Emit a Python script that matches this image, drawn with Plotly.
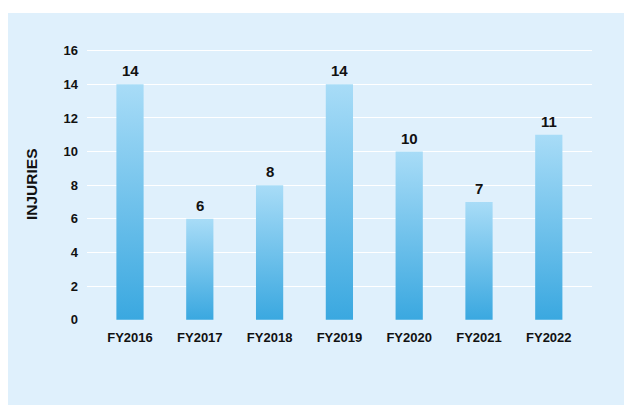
import plotly.graph_objects as go

# Injury counts by fiscal year
years = ["FY2016", "FY2017", "FY2018", "FY2019", "FY2020", "FY2021", "FY2022"]
injuries = [14, 6, 8, 14, 10, 7, 11]
y_ticks = [0, 2, 4, 6, 8, 10, 12, 14, 16]

PANEL = "#dff0fc"
DARK = "#3aa8e0"
LIGHT = "#a8dcf7"
TEXT = "#111111"
FONT = "Liberation Sans, Arial, Helvetica, sans-serif"
BAR_W = 0.39

W, H = 624, 405
L, R, T, B = 87, 32, 46, 85

fig = go.Figure()

# Each bar is a filled outline so that it can carry a vertical gradient
for i, (yr, v) in enumerate(zip(years, injuries)):
    x0, x1 = i - BAR_W / 2, i + BAR_W / 2
    fig.add_trace(go.Scatter(
        x=[x0, x1, x1, x0, x0],
        y=[0, 0, v, v, 0],
        mode="lines",
        line=dict(width=0, color=DARK),
        fill="toself",
        fillgradient=dict(type="vertical",
                          colorscale=[[0, DARK], [1, LIGHT]]),
        hoverinfo="skip",
        showlegend=False,
        name=yr,
    ))
    fig.add_annotation(
        x=i, y=v, xref="x", yref="y",
        text=f"<b>{v}</b>", showarrow=False,
        yanchor="bottom", yshift=3,
        font=dict(family=FONT, size=15, color=TEXT),
    )

plot_w = W - L - R
plot_h = H - T - B

# Light blue backdrop panel behind the chart
fig.add_shape(
    type="rect", xref="paper", yref="paper", layer="below",
    x0=(8 - L) / plot_w, x1=(W + 5 - L) / plot_w,
    y0=(H - B - (H + 5)) / plot_h, y1=(H - B - 13) / plot_h,
    fillcolor=PANEL, line=dict(width=0),
)

fig.add_annotation(
    text="<b>INJURIES</b>", textangle=-90, showarrow=False,
    xref="paper", yref="paper",
    x=(32 - L) / plot_w, y=(H - B - 184) / plot_h,
    xanchor="center", yanchor="middle",
    font=dict(family=FONT, size=15.5, color=TEXT),
)

px_per_unit = 269 / 16
lo = -0.3 / px_per_unit
hi = lo + plot_h / px_per_unit

fig.update_layout(
    width=W, height=H,
    margin=dict(l=L, r=R, t=T, b=B, pad=0),
    paper_bgcolor="white",
    plot_bgcolor="rgba(0,0,0,0)",
    font=dict(family=FONT, color=TEXT),
    xaxis=dict(
        range=[-0.616, 6.619],
        tickvals=list(range(len(years))),
        ticktext=[f"<b>{y}</b>" for y in years],
        showgrid=False, zeroline=False, showline=False,
        ticks="", ticklabelstandoff=8,
        tickfont=dict(family=FONT, size=13, color=TEXT),
        fixedrange=True,
    ),
    yaxis=dict(
        range=[lo, hi],
        tickvals=y_ticks,
        ticktext=[f"<b>{t}</b>" for t in y_ticks],
        showgrid=True, gridcolor="white", gridwidth=1.3,
        zeroline=False, showline=False,
        ticks="", ticklabelstandoff=8,
        tickfont=dict(family=FONT, size=13, color=TEXT),
        fixedrange=True,
    ),
)

fig.write_html("out.html")
